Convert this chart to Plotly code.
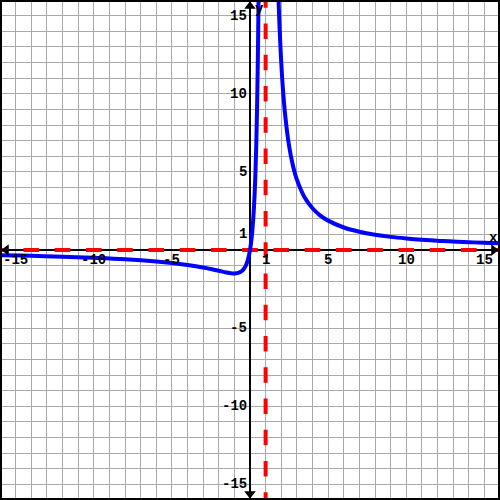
import plotly.graph_objects as go

# Curve values (left branch and right branch of the vertical asymptote)
left_x = [-16.5, -16, -14, -12, -10, -8, -6, -5, -4, -3, -2.5, -2, -1.5, -1.25, -1, -0.75,
          -0.5, -0.35, -0.25, -0.15, -0.05, 0, 0.05, 0.1, 0.15, 0.2, 0.25, 0.3, 0.35, 0.4,
          0.45, 0.5, 0.55, 0.57]
left_y = [-0.32, -0.33, -0.37, -0.43, -0.50, -0.59, -0.73, -0.83, -0.96, -1.12, -1.22, -1.33,
          -1.44, -1.48, -1.50, -1.47, -1.33, -1.15, -0.96, -0.68, -0.27, 0.0, 0.33, 0.74, 1.25,
          1.88, 2.67, 3.67, 4.97, 6.67, 8.93, 12.0, 16.3, 18.5]
right_x = [1.75, 1.8, 1.85, 1.9, 2.0, 2.1, 2.25, 2.5, 2.75, 3, 3.5, 4, 4.5, 5, 6, 7, 8, 9,
           10, 11, 12, 13, 14, 15, 16, 16.5]
right_y = [18.67, 16.88, 15.36, 14.07, 12.0, 10.41, 8.64, 6.67, 5.39, 4.5, 3.36, 2.67, 2.20,
           1.88, 1.44, 1.17, 0.98, 0.84, 0.74, 0.66, 0.60, 0.54, 0.50, 0.46, 0.43, 0.41]

# Asymptotes
v_asym = 1
h_asym = 0

# Tick labels
x_ticks = [-15, -10, -5, 1, 5, 10, 15]
y_ticks = [15, 10, 5, 1, -5, -10, -15]

lim = 16
ext = 16.5
font = dict(family="Liberation Mono, Courier New, monospace", size=14, color="black",
            weight="bold")

fig = go.Figure()

dash = "15.625px,15.625px"
fig.add_trace(go.Scatter(x=[-ext, ext], y=[h_asym, h_asym], mode="lines",
                         line=dict(color="#ff0000", width=4, dash=dash), hoverinfo="skip"))
fig.add_trace(go.Scatter(x=[v_asym, v_asym], y=[-ext, ext], mode="lines",
                         line=dict(color="#ff0000", width=4, dash=dash), hoverinfo="skip"))

fig.add_trace(go.Scatter(x=left_x, y=left_y, mode="lines", line_shape="spline",
                         line=dict(color="#0000ff", width=4)))
fig.add_trace(go.Scatter(x=right_x, y=right_y, mode="lines", line_shape="spline",
                         line=dict(color="#0000ff", width=4)))

# axis arrowheads
fig.add_trace(go.Scatter(x=[0, 0, -15.6, 15.6], y=[15.6, -15.6, 0, 0], mode="markers",
                         marker=dict(symbol=["triangle-up", "triangle-down", "triangle-left",
                                             "triangle-right"], size=10, color="black"),
                         hoverinfo="skip"))

annotations = []
for t in x_ticks:
    annotations.append(dict(x=t, y=0, text="<b>%d</b>" % t, showarrow=False,
                            xanchor="center", yanchor="top", yshift=0, font=font))
for t in y_ticks:
    annotations.append(dict(x=0, y=t, text="<b>%d</b>" % t, showarrow=False,
                            xanchor="right", yanchor="middle", xshift=-1, font=font))
annotations.append(dict(x=15.58, y=0.77, text="<b>x</b>", showarrow=False, font=font))
annotations.append(dict(x=0.62, y=15.4, text="<b>y</b>", showarrow=False, font=font))

axis = dict(range=[-lim, lim], dtick=1, tick0=0, showgrid=True, gridcolor="#aaaaaa",
            gridwidth=1, zeroline=True, zerolinecolor="black", zerolinewidth=2,
            showticklabels=False, ticks="", showline=False, fixedrange=True)

fig.update_layout(
    width=500, height=500, margin=dict(l=0, r=0, t=0, b=0),
    plot_bgcolor="white", paper_bgcolor="white", showlegend=False,
    xaxis=axis, yaxis=axis, annotations=annotations,
    shapes=[dict(type="rect", xref="paper", yref="paper", x0=0, y0=0, x1=1, y1=1,
                 line=dict(color="black", width=4))],
)

fig.write_html("out.html", config={"displayModeBar": False},
               post_script="document.body.style.margin='0';document.body.style.padding='0';")
